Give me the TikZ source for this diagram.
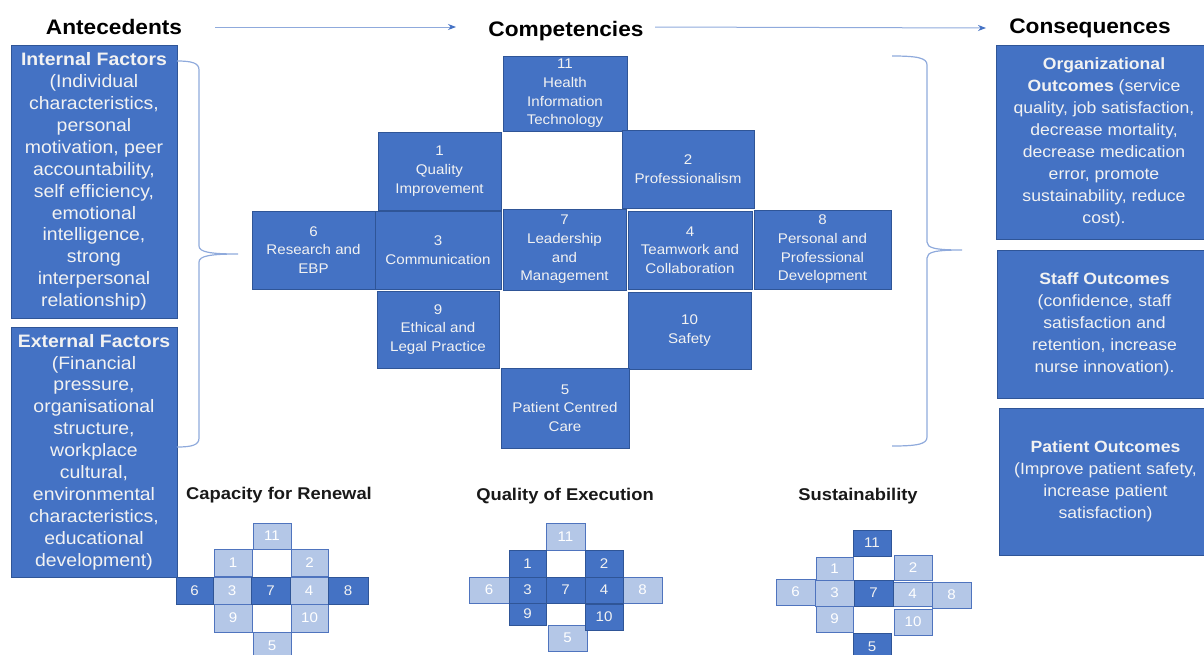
\documentclass[tikz,border=0pt]{standalone}
\usepackage{fontspec}
\setmainfont{Liberation Sans}[FakeStretch=1.08]
\usetikzlibrary{arrows.meta}
\definecolor{blu}{HTML}{4472C4}
\definecolor{bord}{HTML}{2F5597}
\definecolor{lite}{HTML}{B4C7E7}
\definecolor{litebord}{HTML}{4F74BE}
\definecolor{brc}{HTML}{8FAADC}
\definecolor{txt}{HTML}{F2F2F2}
\newcommand\fL{\fontsize{18}{21.9}\selectfont}
\newcommand\fR{\fontsize{16.3}{22}\selectfont}
\newcommand\fG{\fontsize{14}{18.7}\selectfont}
\newcommand\fS{\fontsize{14}{16}\selectfont}
\newcommand\fH{\fontsize{21}{24}\selectfont\bfseries}
\newcommand\fT{\fontsize{17}{20}\selectfont\bfseries}
\newcommand\bx[7]{\node[#6, minimum width={(#4-#2)*1pt}, minimum height={(#5-#3)*1pt}] (#1) at ({(#2+#4)/2},{(#3+#5)/2}) {#7};}
\tikzset{
  bigbox/.style={draw=bord, line width=0.8pt, fill=blu, text=txt, inner sep=0pt, align=center},
  lbox/.style={bigbox, font=\fL},
  rbox/.style={bigbox, font=\fR},
  gbox/.style={bigbox, font=\fG},
  dcell/.style={draw=bord, line width=0.8pt, fill=blu, text=txt, inner sep=0pt, font=\fS},
  lcell/.style={draw=litebord, line width=0.8pt, fill=lite, text=white, inner sep=0pt, font=\fS},
  hdr/.style={font=\fH, text=black, inner sep=0pt, anchor=base},
  ttl/.style={font=\fT, text=black!90, inner sep=0pt, anchor=base},
  arrline/.style={draw=brc, line width=1pt, -{Stealth[length=8pt,width=6pt,color=blu]}},
  brace/.style={draw=brc, line width=1.2pt}
}
\begin{document}
\begin{tikzpicture}[x=1pt,y=-1pt]
\useasboundingbox (0,0) rectangle (1204,654);
% headers
\node[hdr] (ante) at (114,34.5) {Antecedents};
\node[hdr] (comp) at (566,36) {Competencies};
\node[hdr] (cons) at (1090,33) {Consequences};
\coordinate (a1s) at (215,27);
\coordinate (a1e) at (456,27);
\coordinate (a2s) at (655,27);
\coordinate (a2e) at (986,28);
\draw[arrline] (a1s) -- (a1e);
\draw[arrline] (a2s) -- (a2e);
% left boxes
\bx{inf}{11}{45}{177}{318}{lbox}{\textbf{Internal Factors}\\(Individual\\characteristics,\\personal\\motivation, peer\\accountability,\\self efficiency,\\emotional\\intelligence,\\strong\\interpersonal\\relationship)}
\bx{exf}{11}{327}{177}{577}{lbox}{\textbf{External Factors}\\(Financial\\pressure,\\organisational\\structure,\\workplace\\cultural,\\environmental\\characteristics,\\educational\\development)}
% right boxes
\bx{org}{996}{45}{1212}{239}{rbox}{\textbf{Organizational}\\\textbf{Outcomes} (service\\quality, job satisfaction,\\decrease mortality,\\decrease medication\\error, promote\\sustainability, reduce\\cost).}
\bx{stf}{997}{250}{1212}{398}{rbox}{\textbf{Staff Outcomes}\\(confidence, staff\\satisfaction and\\retention, increase\\nurse innovation).}
\bx{pat}{999}{408}{1212}{555}{rbox}{\textbf{Patient Outcomes}\\(Improve patient safety,\\increase patient\\satisfaction)}
% braces
\draw[brace] (177,61) .. controls (192,61) and (199,63) .. (199,70) -- (199,246)
  .. controls (199,252) and (210,254) .. (238,254)
  .. controls (210,254) and (199,256) .. (199,262) -- (199,438)
  .. controls (199,445) and (192,447) .. (177,447);
\draw[brace] (892,56) .. controls (918,56) and (927,58) .. (927,65) -- (927,242)
  .. controls (927,248) and (935,250) .. (962,250)
  .. controls (935,250) and (927,252) .. (927,258) -- (927,437)
  .. controls (927,444) and (918,446) .. (892,446);
% competency grid
\bx{c11}{503}{56}{627}{131}{gbox}{11\\Health\\Information\\Technology}
\bx{c1}{378}{132}{501}{210}{gbox}{1\\Quality\\Improvement}
\bx{c2}{622}{130}{754}{208}{gbox}{2\\Professionalism}
\bx{c6}{252}{211}{375}{289}{gbox}{6\\Research and\\EBP}
\bx{c3}{375}{211}{501}{289}{gbox}{3\\Communication}
\bx{c7}{503}{209}{626}{290}{gbox}{7\\Leadership\\and\\Management}
\bx{c4}{628}{211}{752}{289}{gbox}{4\\Teamwork and\\Collaboration}
\bx{c8}{754}{210}{891}{289}{gbox}{8\\Personal and\\Professional\\Development}
\bx{c9}{377}{291}{499}{368}{gbox}{9\\Ethical and\\Legal Practice}
\bx{c10}{628}{292}{751}{369}{gbox}{10\\Safety}
\bx{c5}{501}{368}{629}{448}{gbox}{5\\Patient Centred\\Care}
% titles
\node[ttl] (t1) at (279,499) {Capacity for Renewal};
\node[ttl] (t2) at (565,500) {Quality of Execution};
\node[ttl] (t3) at (858,500) {Sustainability};
% grid 1
\bx{a11}{253}{523}{291}{549}{lcell}{11}
\bx{a1}{214}{549}{252}{576}{lcell}{1}
\bx{a2}{291}{549}{328}{576}{lcell}{2}
\bx{a9}{214}{604}{252}{632}{lcell}{9}
\bx{a10}{291}{604}{328}{632}{lcell}{10}
\bx{a5}{253}{632}{291}{660}{lcell}{5}
\bx{a3}{213}{577}{251}{604}{lcell}{3}
\bx{a4}{290}{577}{328}{604}{lcell}{4}
\bx{a6}{176}{577}{213}{604}{dcell}{6}
\bx{a7}{251}{577}{290}{604}{dcell}{7}
\bx{a8}{328}{577}{368}{604}{dcell}{8}
% grid 2
\bx{b11}{546}{523}{585}{550}{lcell}{11}
\bx{b6}{469}{577}{509}{603}{lcell}{6}
\bx{b8}{623}{577}{662}{603}{lcell}{8}
\bx{b5}{548}{625}{587}{651}{lcell}{5}
\bx{b1}{509}{550}{546}{577}{dcell}{1}
\bx{b2}{585}{550}{623}{577}{dcell}{2}
\bx{b3}{509}{577}{546}{603}{dcell}{3}
\bx{b7}{546}{577}{585}{603}{dcell}{7}
\bx{b4}{585}{577}{623}{603}{dcell}{4}
\bx{b9}{509}{603}{546}{625}{dcell}{9}
\bx{b10}{585}{604}{623}{630}{dcell}{10}
% grid 3
\bx{s1}{816}{557}{853}{580}{lcell}{1}
\bx{s2}{894}{555}{932}{580}{lcell}{2}
\bx{s6}{776}{579}{815}{605}{lcell}{6}
\bx{s3}{815}{580}{854}{606}{lcell}{3}
\bx{s4}{893}{582}{932}{606}{lcell}{4}
\bx{s8}{932}{582}{971}{608}{lcell}{8}
\bx{s9}{816}{606}{853}{632}{lcell}{9}
\bx{s10}{894}{609}{932}{635}{lcell}{10}
\bx{s11}{853}{530}{891}{556}{dcell}{11}
\bx{s7}{854}{580}{893}{606}{dcell}{7}
\bx{s5}{853}{633}{891}{660}{dcell}{5}
\end{tikzpicture}
\end{document}
